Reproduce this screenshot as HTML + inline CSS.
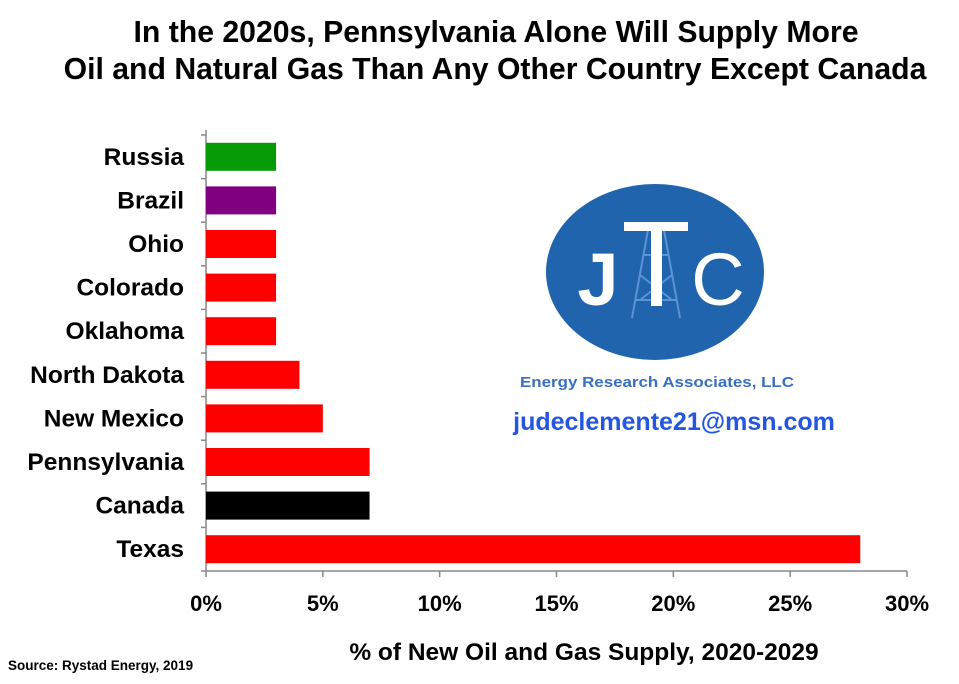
<!DOCTYPE html>
<html><head><meta charset="utf-8"><style>
body{margin:0;background:#fff;}
svg text{font-family:"Liberation Sans",Arial,sans-serif;font-weight:bold;}
</style></head><body>
<svg width="959" height="679" viewBox="0 0 959 679">
<text x="496" y="42" font-size="30.2" text-anchor="middle">In the 2020s, Pennsylvania Alone Will Supply More</text>
<text x="495" y="79" font-size="30.2" text-anchor="middle">Oil and Natural Gas Than Any Other Country Except Canada</text>
<g id="logo">
<ellipse cx="655" cy="272" rx="109" ry="88" fill="#1f64ad"/>
<g stroke="#5b93d6" stroke-width="2" fill="none"><path d="M632 318 L648 230 L664 230 L680 318 M640 275 L672 300 M672 275 L640 300 M636 300 L676 300 M644 255 L668 255"/></g>
<text x="598" y="305" font-size="74" fill="#fff" text-anchor="middle">J</text>
<rect x="624" y="222" width="64" height="9" fill="#fff"/><rect x="651" y="222" width="11" height="84" fill="#fff"/>
<text x="718" y="305" font-size="74" fill="#fff" text-anchor="middle" style="font-weight:normal">C</text>
<text x="657" y="387" font-size="15" fill="#3a6fc0" text-anchor="middle" textLength="274" lengthAdjust="spacingAndGlyphs">Energy Research Associates, LLC</text>
<text x="674" y="430" font-size="25" fill="#2456e0" text-anchor="middle">judeclemente21@msn.com</text>
</g>
<g id="axes"></g>
<g id="bars"></g>
<text x="584" y="660" font-size="24.5" text-anchor="middle">% of New Oil and Gas Supply, 2020-2029</text>
<text x="8" y="670" font-size="13.5">Source: Rystad Energy, 2019</text>
</svg>
<script>
const categories=["Russia","Brazil","Ohio","Colorado","Oklahoma","North Dakota","New Mexico","Pennsylvania","Canada","Texas"];
const values=[3,3,3,3,3,4,5,7,7,28];
const colors=["#079a07","#800080","#ff0000","#ff0000","#ff0000","#ff0000","#ff0000","#ff0000","#000000","#ff0000"];
const ticks=[0,5,10,15,20,25,30];
const ns="http://www.w3.org/2000/svg";
const X0=206,X1=907,Y0=135,Y1=571;
const xs=v=>X0+(v/30)*(X1-X0);
const band=(Y1-Y0)/categories.length;
const ys=i=>Y0+i*band;
function mk(t,a,p){const e=document.createElementNS(ns,t);for(const k in a)e.setAttribute(k,a[k]);p.appendChild(e);return e;}
const ax=document.getElementById('axes'),bg=document.getElementById('bars');
let l=mk('line',{x1:X0,y1:130,x2:X0,y2:Y1,stroke:'#888','stroke-width':1.5},ax);


l=mk('line',{x1:X0,y1:Y1,x2:X1,y2:Y1,stroke:'#888','stroke-width':1.5},ax);


for(let i=0;i<=categories.length;i++){mk('line',{x1:X0-5,y1:ys(i),x2:X0,y2:ys(i),stroke:'#888','stroke-width':1.5},ax);}
ticks.forEach(t=>{
 mk('line',{x1:xs(t),y1:Y1,x2:xs(t),y2:Y1+6,stroke:'#888','stroke-width':1.5},ax);
 const tx=mk('text',{x:xs(t),y:611,'font-size':22,'text-anchor':'middle'},ax);tx.textContent=t+'%';
 
 
});
categories.forEach((c,i)=>{
 const r=mk('rect',{x:X0,y:ys(i)+band/2-14,width:xs(values[i])-X0,height:28,fill:colors[i]},bg);
 
 
 const tx=mk('text',{x:184,y:ys(i)+band/2+8,'font-size':24.5,'text-anchor':'end'},bg);tx.textContent=c;
 
 
});
</script>
</body></html>
